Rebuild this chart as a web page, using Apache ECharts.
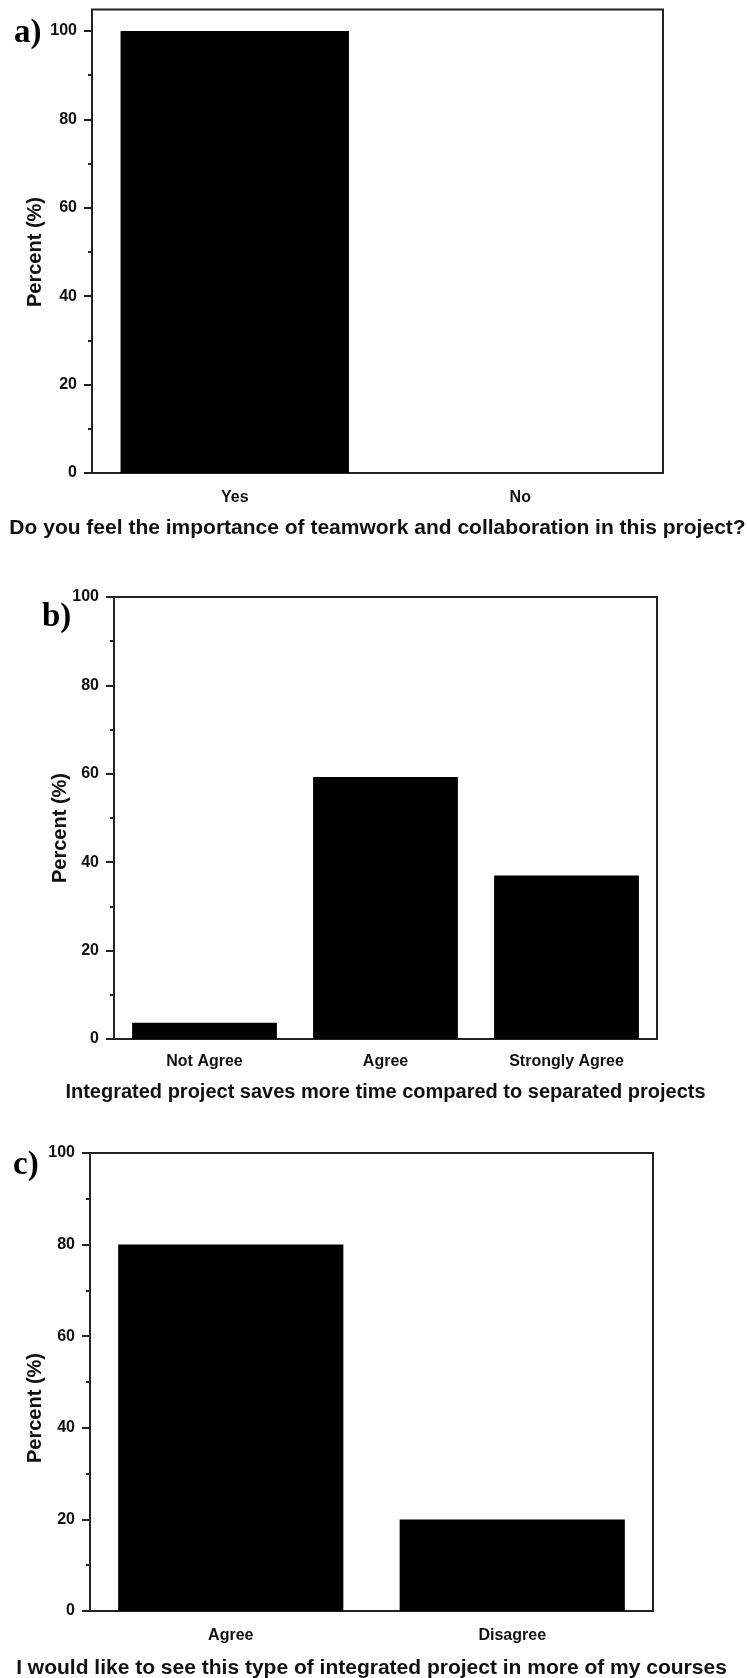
<!DOCTYPE html>
<html>
<head>
<meta charset="utf-8">
<script src="https://cdn.jsdelivr.net/npm/echarts@6.0.0/dist/echarts.min.js"></script>
<style>
  html, body { margin: 0; padding: 0; background: #fff; }
  #chart { width: 747px; height: 1678px; }
</style>
</head>
<body>
<div id="chart"></div>
<script>
// a) teamwork
const catsA  = ['Yes', 'No'];
const valsA  = [100, 0];
const titleA = 'Do you feel the importance of teamwork and collaboration in this project?';

// b) time saving
const catsB  = ['Not Agree', 'Agree', 'Strongly Agree'];
const valsB  = [3.7, 59.3, 37.0];
const titleB = 'Integrated project saves more time compared to separated projects';

// c) more courses
const catsC  = ['Agree', 'Disagree'];
const valsC  = [80, 20];
const titleC = 'I would like to see this type of integrated project in more of my courses';

const AX    = '#222';
const SANS  = '"Liberation Sans", Arial, sans-serif';
const SERIF = '"Liberation Serif", "Times New Roman", serif';

const tickFont = { fontFamily: SANS, fontWeight: 'bold', fontSize: 16, color: '#111' };

// main category axis + a second one only for the short ticks between bars
function catAxes(grid, cats, title, nameSize, nameGap, margin) {
  return [
    {
      gridIndex: grid, type: 'category', data: cats, position: 'bottom',
      axisLine: { lineStyle: { color: AX, width: 2 } },
      axisTick: { alignWithLabel: true, length: 8, lineStyle: { color: AX, width: 2 } },
      axisLabel: { ...tickFont, margin },
      name: title, nameLocation: 'middle', nameGap, nameMoveOverlap: false,
      nameTextStyle: { fontFamily: SANS, fontWeight: 'bold', fontSize: nameSize, color: '#111' }
    },
    {
      gridIndex: grid, type: 'category', data: cats, position: 'bottom',
      axisLine: { show: false }, axisLabel: { show: false },
      axisTick: { length: 4, lineStyle: { color: AX, width: 2 } }
    }
  ];
}

// shift = pushes the rotated name down along the axis
function pctAxis(grid, nameGap, shift) {
  return {
    gridIndex: grid, type: 'value', min: 0, max: 100, interval: 20, position: 'left',
    axisLine: { show: true, lineStyle: { color: AX, width: 2 } },
    axisTick: { show: true, length: 8, lineStyle: { color: AX, width: 2 } },
    minorTick: { show: true, splitNumber: 2, length: 4, lineStyle: { color: AX, width: 2 } },
    splitLine: { show: false },
    axisLabel: { ...tickFont, margin: 15 },
    name: 'Percent (%)', nameLocation: 'middle', nameGap, nameMoveOverlap: false,
    nameTextStyle: {
      fontFamily: SANS, fontWeight: 'bold', fontSize: 20, color: '#111',
      padding: [0, shift * 2, 0, 0]
    }
  };
}

function bars(xi, yi, vals) {
  return {
    type: 'bar', xAxisIndex: xi, yAxisIndex: yi, data: vals,
    barWidth: '80%', itemStyle: { color: '#000' }, silent: true
  };
}

const frame = { show: true, borderColor: AX, borderWidth: 2, backgroundColor: 'transparent' };

const chart = echarts.init(document.getElementById('chart'));

chart.setOption({
  animation: false,
  backgroundColor: '#fff',
  grid: [
    { left: 92, right: 84, top: 31, bottom: 1205, outerBoundsMode: 'none' },            // a data
    { left: 92, right: 84, top: 9.5, bottom: 1205, outerBoundsMode: 'none', ...frame }, // a box
    { left: 114, right: 90, top: 597, bottom: 639, outerBoundsMode: 'none', ...frame }, // b
    { left: 90, right: 94, top: 1153, bottom: 67, outerBoundsMode: 'none', ...frame }   // c
  ],
  xAxis: [
    ...catAxes(0, catsA, titleA, 21, 45, 17),
    { gridIndex: 1, type: 'value', show: false },
    ...catAxes(2, catsB, titleB, 20, 43, 15),
    ...catAxes(3, catsC, titleC, 21, 47, 17)
  ],
  yAxis: [
    pctAxis(0, 47, 0),
    { gridIndex: 1, type: 'value', show: false },
    pctAxis(2, 44, 10),
    pctAxis(3, 45, 26)
  ],
  series: [
    bars(0, 0, valsA),
    bars(3, 2, valsB),
    bars(5, 3, valsC)
  ],
  graphic: [
    { type: 'text', left: 14, top: 17, style: { text: 'a)', font: 'bold 33px ' + SERIF, fill: '#000' } },
    { type: 'text', left: 42, top: 601, style: { text: 'b)', font: 'bold 33px ' + SERIF, fill: '#000' } },
    { type: 'text', left: 13, top: 1149, style: { text: 'c)', font: 'bold 33px ' + SERIF, fill: '#000' } }
  ]
});
</script>
</body>
</html>
